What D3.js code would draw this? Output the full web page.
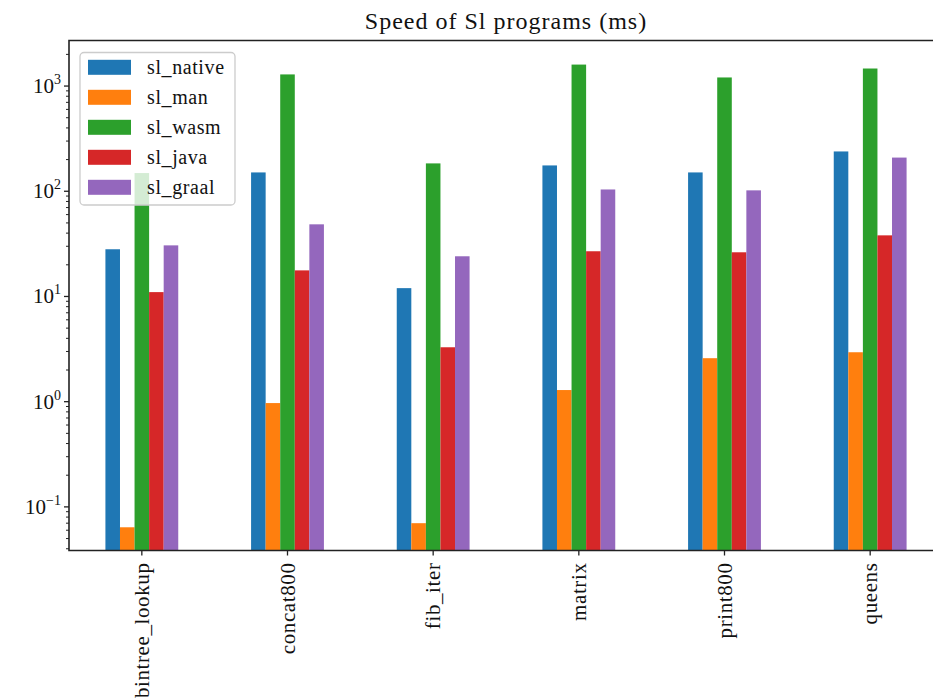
<!DOCTYPE html>
<html>
<head>
<meta charset="utf-8">
<script src="https://d3js.org/d3.v7.min.js"></script>
<style>
  body { margin: 0; background: #fff; }
  svg text { font-family: "Liberation Serif", "DejaVu Serif", serif; fill: #111; }
  .spine { stroke: #222; stroke-width: 1.6; fill: none; }
</style>
</head>
<body>
<script>
// programs on the x axis
var programs = ["bintree_lookup", "concat800", "fib_iter", "matrix", "print800", "queens"];

// series (one value per program, ms)
var seriesNames = ["sl_native", "sl_man", "sl_wasm", "sl_java", "sl_graal"];
var sl_native = [28.1, 151, 12.0, 176, 151, 239];
var sl_man    = [0.064, 0.97, 0.070, 1.29, 2.59, 2.95];
var sl_wasm   = [149, 1290, 184, 1600, 1207, 1468];
var sl_java   = [11.0, 17.7, 3.29, 26.9, 26.3, 38.1];
var sl_graal  = [30.6, 48.5, 24.1, 104, 102, 209];
var seriesValues = [sl_native, sl_man, sl_wasm, sl_java, sl_graal];
var colours = ["#1f77b4", "#ff7f0e", "#2ca02c", "#d62728", "#9467bd"];

var yTicks = [0.1, 1, 10, 100, 1000];
var yTickExp = ["\u22121", "0", "1", "2", "3"];

var W = 933, H = 700;
var margin = {top: 40.5, left: 69, bottom: 550.5, right: 943};
var serif = "'Liberation Serif', 'DejaVu Serif', serif";

var svg = d3.select("body").append("svg")
  .attr("width", W).attr("height", H);

var x = d3.scaleLinear().domain([-0.5, programs.length - 0.5]).range([margin.left, margin.right]);
var y = d3.scaleLog().domain([0.0385, 2710]).range([margin.bottom, margin.top]);

var barW = 0.1;

// bars
seriesValues.forEach(function(vals, s) {
  svg.append("g").selectAll("rect")
    .data(vals)
    .enter().append("rect")
      .attr("x", (d, i) => x(i - 0.25 + s * barW))
      .attr("width", x(barW) - x(0))
      .attr("y", d => y(d))
      .attr("height", d => margin.bottom - y(d))
      .attr("fill", colours[s]);
});

// y axis minor ticks
var minor = [];
for (var e = -2; e <= 3; e++) {
  for (var m = 2; m <= 9; m++) {
    var v = m * Math.pow(10, e);
    if (v >= y.domain()[0] && v <= y.domain()[1]) minor.push(v);
  }
}
svg.append("g").selectAll("line")
  .data(minor)
  .enter().append("line")
    .attr("x1", margin.left).attr("x2", margin.left - 3)
    .attr("y1", d => y(d)).attr("y2", d => y(d))
    .attr("stroke", "#222").attr("stroke-width", 1);

// y axis major ticks
var yg = svg.append("g");
yg.selectAll("line")
  .data(yTicks)
  .enter().append("line")
    .attr("x1", margin.left).attr("x2", margin.left - 5)
    .attr("y1", d => y(d)).attr("y2", d => y(d))
    .attr("stroke", "#222").attr("stroke-width", 1.3);
var yl = yg.selectAll("text")
  .data(yTicks)
  .enter().append("text")
    .attr("x", 61)
    .attr("y", d => y(d) + 7)
    .attr("text-anchor", "end")
    .attr("font-family", serif)
    .style("font-size", "21px");
yl.append("tspan").text("10");
yl.append("tspan")
  .attr("dy", -9)
  .style("font-size", "14px")
  .text((d, i) => yTickExp[i]);

// x axis ticks and labels
var xg = svg.append("g");
xg.selectAll("line")
  .data(programs)
  .enter().append("line")
    .attr("x1", (d, i) => x(i)).attr("x2", (d, i) => x(i))
    .attr("y1", margin.bottom).attr("y2", margin.bottom + 5)
    .attr("stroke", "#222").attr("stroke-width", 1.3);
xg.selectAll("text")
  .data(programs)
  .enter().append("text")
    .attr("transform", (d, i) => "translate(" + (x(i) + 7) + "," + (margin.bottom + 12) + ") rotate(-90)")
    .attr("text-anchor", "end")
    .attr("font-family", serif)
    .style("font-size", "21px")
    .style("letter-spacing", "0.6px")
    .text(d => d);

// spines
svg.append("path").attr("class", "spine")
  .attr("d", "M" + margin.right + "," + margin.top + "H" + margin.left + "V" + margin.bottom + "H" + margin.right);

// title
svg.append("text")
  .attr("x", (margin.left + margin.right) / 2)
  .attr("y", 29)
  .attr("text-anchor", "middle")
  .attr("font-family", serif)
  .style("font-size", "24px")
  .style("letter-spacing", "1px")
  .text("Speed of Sl programs (ms)");

// legend
var lg = svg.append("g");
lg.append("rect")
  .attr("x", 80).attr("y", 52.5).attr("width", 155).attr("height", 152.5)
  .attr("rx", 4)
  .attr("fill", "#fff").attr("fill-opacity", 0.8)
  .attr("stroke", "#ccc").attr("stroke-width", 1.3);
var items = lg.selectAll("g.item")
  .data(seriesNames)
  .enter().append("g")
    .attr("transform", (d, i) => "translate(0," + (67.3 + i * 30) + ")");
items.append("rect")
  .attr("x", 88).attr("y", -7.5).attr("width", 43).attr("height", 15)
  .attr("fill", (d, i) => colours[i]);
items.append("text")
  .attr("x", 147)
  .attr("y", 6.5)
  .attr("font-family", serif)
  .style("font-size", "20px")
  .style("letter-spacing", "0.6px")
  .text(d => d);
</script>
</body>
</html>
